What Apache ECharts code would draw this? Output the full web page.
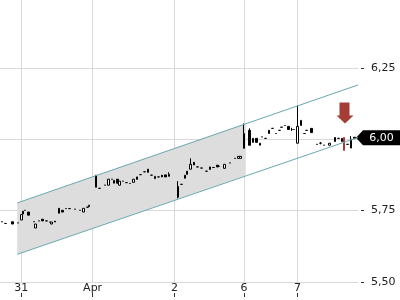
<!DOCTYPE html>
<html><head><meta charset="utf-8">
<script src="https://cdn.jsdelivr.net/npm/echarts@6/dist/echarts.min.js"></script>
<style>html,body{margin:0;padding:0;background:#fff}#c{width:400px;height:300px}</style>
</head><body><div id="c"></div>
<script>
// time slots on the x axis (intraday buckets)
const slotCount = 202;
const dayLabels = ['31', 'Apr', '2', '6', '7'];
const daySlots = [12, 52, 98, 137, 167];
// price axis
const yMin = 5.5, yMax = 6.4875;
const yTicks = [5.5, 5.75, 6.0, 6.25];

// candles: slot, open, close, low, high
const candleSlot = [1,3,7,10,12,13,14,16,19,20,22,24,26,28,29,31,33,35,37,39,42,45,47,49,50,
  54,56,59,61,63,64,66,67,69,71,73,75,77,79,81,83,85,87,89,91,93,95,
  100,102,104,105,107,109,111,113,116,118,120,122,123,126,129,132,134,135,
  137,140,142,144,146,147,149,151,153,155,157,158,160,162,164,165,
  167,169,171,172,175,178,180,182,185,188,190,192,193,195,197,199];
const candleOpen = [5.711,5.705,5.711,5.707,5.717,5.738,5.751,5.745,5.711,5.689,5.714,5.720,5.714,5.710,5.703,5.713,5.758,5.751,5.757,5.757,5.755,5.751,5.745,5.762,5.764,
  5.874,5.828,5.839,5.839,5.860,5.846,5.860,5.839,5.853,5.848,5.845,5.849,5.859,5.876,5.886,5.895,5.874,5.862,5.868,5.874,5.875,5.870,
  5.797,5.842,5.863,5.888,5.895,5.919,5.903,5.899,5.888,5.894,5.901,5.909,5.905,5.898,5.917,5.933,5.933,5.933,
  5.968,6.031,6.003,6.003,5.979,6.008,6.003,6.031,6.038,6.020,6.031,6.042,6.048,6.045,6.034,6.034,
  5.986,6.048,6.020,6.031,6.038,5.982,5.986,5.979,5.979,6.006,6.003,5.992,6.006,5.982,5.969,6.007];
const candleClose = [5.711,5.705,5.703,5.707,5.736,5.748,5.751,5.734,5.711,5.703,5.714,5.714,5.714,5.710,5.710,5.710,5.741,5.745,5.757,5.757,5.755,5.751,5.758,5.762,5.769,
  5.832,5.828,5.839,5.860,5.860,5.856,5.846,5.853,5.853,5.848,5.845,5.860,5.868,5.876,5.886,5.884,5.874,5.870,5.868,5.868,5.868,5.877,
  5.835,5.842,5.874,5.877,5.912,5.910,5.903,5.899,5.888,5.903,5.901,5.903,5.905,5.912,5.917,5.933,5.940,5.940,
  6.020,5.979,5.989,5.989,5.986,6.008,6.003,6.020,6.038,6.020,6.031,6.042,6.048,6.034,6.034,6.034,
  6.045,6.066,6.020,6.031,6.023,5.982,5.986,5.979,5.986,5.992,6.003,6.003,5.961,5.982,6.000,6.002];
const candleLow = [5.711,5.705,5.703,5.707,5.717,5.738,5.751,5.734,5.711,5.689,5.714,5.714,5.714,5.710,5.703,5.710,5.741,5.745,5.757,5.757,5.755,5.751,5.745,5.762,5.764,
  5.832,5.828,5.839,5.839,5.860,5.846,5.846,5.839,5.853,5.848,5.845,5.849,5.859,5.876,5.886,5.884,5.874,5.862,5.868,5.868,5.868,5.870,
  5.793,5.842,5.863,5.877,5.895,5.910,5.903,5.899,5.888,5.894,5.901,5.903,5.905,5.898,5.917,5.933,5.933,5.933,
  5.968,5.979,5.989,5.989,5.979,6.008,6.003,6.020,6.038,6.020,6.031,6.042,6.048,6.034,6.029,6.034,
  5.986,6.048,6.020,6.031,6.023,5.982,5.982,5.979,5.979,5.992,6.003,5.992,5.961,5.982,5.969,6.002];
const candleHigh = [5.711,5.705,5.711,5.707,5.736,5.748,5.751,5.745,5.711,5.703,5.714,5.720,5.714,5.710,5.710,5.713,5.758,5.751,5.757,5.757,5.755,5.751,5.758,5.762,5.769,
  5.874,5.828,5.839,5.860,5.860,5.856,5.860,5.853,5.853,5.848,5.845,5.860,5.868,5.876,5.886,5.895,5.874,5.870,5.868,5.874,5.875,5.884,
  5.853,5.842,5.874,5.888,5.933,5.919,5.903,5.899,5.888,5.903,5.901,5.909,5.905,5.912,5.917,5.933,5.940,5.940,
  6.055,6.038,6.003,6.003,5.986,6.008,6.003,6.031,6.038,6.020,6.031,6.042,6.048,6.045,6.040,6.034,
  6.118,6.066,6.020,6.031,6.038,5.982,5.990,5.979,5.986,6.006,6.003,6.003,6.006,5.982,6.011,6.007];
const highlightSlot = 193;

// trend channel (x in slot units, y in price)
const channelUpper = [[9.7, 5.777], [201, 6.190]];
const channelLower = [[9.7, 5.597], [201, 6.006]];
const channelFill = [[9.7, 5.777], [138, 6.055], [138, 5.873], [9.7, 5.597]];
const arrowPoint = [193.7, 6.092];
const lastPrice = 6.005;
const lastPriceLabel = '6,00';

const slots = [];
for (let i = 0; i < slotCount; i++) slots.push(String(i));
const candleData = slots.map(() => '-');
candleSlot.forEach((s, k) => {
  const item = { value: [candleOpen[k], candleClose[k], candleLow[k], candleHigh[k]] };
  if (s === highlightSlot) {
    item.itemStyle = { color: '#a63c36', color0: '#a63c36', borderColor: '#a63c36', borderColor0: '#a63c36' };
  }
  candleData[s] = item;
});
const isDay = (i) => daySlots.indexOf(i) >= 0;
const FONT = 'DejaVu Sans';

const chart = echarts.init(document.getElementById('c'), null, { renderer: 'canvas' });
chart.setOption({
  animation: false,
  backgroundColor: '#fff',
  grid: { left: 0, right: 42, top: 0, bottom: 18, containLabel: false },
  xAxis: [
    {
      type: 'category', data: slots, boundaryGap: false, position: 'bottom',
      axisLine: { show: false, onZero: false }, axisTick: { show: false },
      axisLabel: {
        interval: (i) => isDay(i),
        formatter: (v) => dayLabels[daySlots.indexOf(Number(v))] || '',
        fontSize: 11, color: '#222', margin: 1, fontFamily: FONT
      },
      splitLine: { show: true, interval: (i) => isDay(i), lineStyle: { color: '#d9d9d9', width: 1 } }
    },
    { type: 'value', min: 0, max: slotCount - 1, show: false, axisLine: { onZero: false } },
    {
      type: 'category', data: slots, boundaryGap: false, position: 'bottom', offset: 11,
      axisLine: { show: false, onZero: false }, axisLabel: { show: false }, splitLine: { show: false },
      axisTick: { show: true, interval: (i) => isDay(i), length: 4, lineStyle: { color: '#333' } }
    }
  ],
  yAxis: {
    type: 'value', position: 'right', min: yMin, max: yMax, offset: 3,
    axisLine: { show: false, onZero: false },
    axisTick: { show: true, length: 3, customValues: yTicks, lineStyle: { color: '#333' } },
    axisLabel: {
      customValues: yTicks, margin: 10, fontSize: 11, color: '#222', fontFamily: FONT,
      formatter: (v) => v.toFixed(2).replace('.', ',')
    },
    splitLine: { show: true, lineStyle: { color: '#d9d9d9', width: 1 } }
  },
  series: [
    {
      type: 'custom', xAxisIndex: 1, yAxisIndex: 0, silent: true, data: [[0, 0]],
      renderItem: (params, api) => ({
        type: 'polygon',
        shape: { points: channelFill.map(p => api.coord(p)) },
        style: { fill: '#dddddd' }
      })
    },
    {
      type: 'line', xAxisIndex: 1, data: channelUpper, symbol: 'none', silent: true,
      lineStyle: { color: '#6aa8b0', width: 1 }
    },
    {
      type: 'line', xAxisIndex: 1, data: channelLower, symbol: 'none', silent: true,
      lineStyle: { color: '#6aa8b0', width: 1 }
    },
    {
      type: 'candlestick', xAxisIndex: 0, data: candleData, barWidth: 2,
      itemStyle: { color: '#ffffff', color0: '#000000', borderColor: '#000000', borderColor0: '#000000', borderWidth: 1 }
    },
    {
      type: 'scatter', xAxisIndex: 1, data: [arrowPoint], clip: false, silent: true,
      symbol: 'path://M3,0 L13,0 L13,13 L17,13 L8.5,21 L0,13 L3,13 Z', symbolSize: [17, 21],
      itemStyle: { color: '#a63c36', opacity: 1 }
    },
    {
      type: 'scatter', xAxisIndex: 1, data: [[slotCount - 1, lastPrice]], clip: false, silent: true,
      symbol: 'path://M0,7.5 L7,0 L45,0 L45,15 L7,15 Z', symbolSize: [45, 15], symbolOffset: [20.5, 0],
      itemStyle: { color: '#000', opacity: 1 },
      label: { show: true, position: 'inside', formatter: lastPriceLabel, color: '#fff', fontSize: 11, fontFamily: FONT, offset: [3, 0] }
    }
  ]
});
</script></body></html>
